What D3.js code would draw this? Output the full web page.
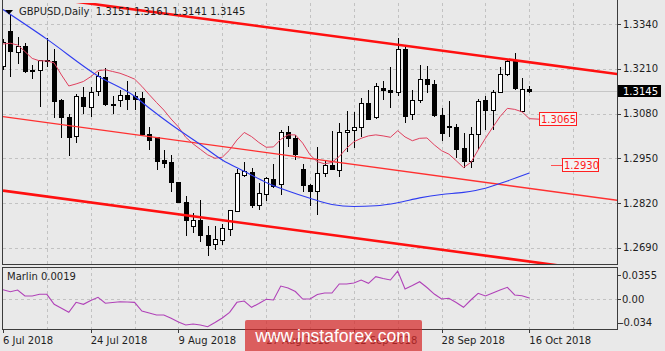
<!DOCTYPE html>
<html>
<head>
<meta charset="utf-8">
<script src="https://cdn.jsdelivr.net/npm/d3@7"></script>
<style>
body { margin: 0; background: #e9e9e9; }
svg { display: block; font-family: "DejaVu Sans", sans-serif; }
</style>
</head>
<body>
<svg id="chart" width="665" height="351"></svg>
<script>
/* GBPUSD daily bars, 6 Jul 2018 .. 16 Oct 2018 */
const openP  = [1.3218,1.3317,1.3257,1.3274,1.3206,1.3205,1.3234,1.3231,1.3118,1.3069,
                1.3013,1.3127,1.3098,1.3144,1.3185,1.3105,1.3117,1.3131,1.3129,1.3124,
                1.3018,1.3011,1.2943,1.2938,1.2880,1.2823,1.2752,1.2768,1.2725,1.2699,
                1.2711,1.2744,1.2795,1.2899,1.2909,1.2812,1.2844,1.2889,1.2873,1.3025,
                1.3008,1.2918,1.2871,1.2853,1.2905,1.2929,1.2914,1.3025,1.3032,1.3040,
                1.3110,1.3069,1.3153,1.3147,1.3141,1.3267,1.3076,1.3118,1.3180,1.3165,
                1.3075,1.3042,1.3040,1.2979,1.2941,1.3018,1.3118,1.3090,1.3141,1.3192,
                1.3234,1.3086,1.3151];
const highP  = [1.3295,1.3366,1.3301,1.3286,1.3221,1.3236,1.3298,1.3266,1.3122,1.3079,
                1.3137,1.3158,1.3158,1.3202,1.3211,1.3131,1.3149,1.3173,1.3143,1.3143,
                1.3042,1.3011,1.2974,1.2960,1.2882,1.2839,1.2791,1.2829,1.2752,1.2754,
                1.2760,1.2800,1.2918,1.2938,1.2921,1.2878,1.2897,1.2934,1.3032,1.3044,
                1.3018,1.2934,1.2876,1.2984,1.2941,1.3028,1.3052,1.3086,1.3083,1.3124,
                1.3149,1.3168,1.3173,1.3216,1.3298,1.3274,1.3147,1.3221,1.3218,1.3178,
                1.3095,1.3117,1.3049,1.3023,1.3040,1.3121,1.3131,1.3149,1.3216,1.3238,
                1.3257,1.3182,1.3161];
const lowP   = [1.3205,1.3187,1.3224,1.3199,1.3179,1.3100,1.3216,1.3068,1.3008,1.2957,
                1.2994,1.3079,1.3071,1.3131,1.3102,1.3079,1.3098,1.3089,1.3090,1.3015,
                1.2974,1.2916,1.2923,1.2853,1.2820,1.2723,1.2733,1.2708,1.2665,1.2684,
                1.2699,1.2725,1.2795,1.2895,1.2805,1.2800,1.2825,1.2863,1.2844,1.2984,
                1.2945,1.2853,1.2810,1.2786,1.2895,1.2916,1.2897,1.2967,1.2979,1.3013,
                1.3061,1.3063,1.3118,1.3095,1.3131,1.3052,1.3061,1.3110,1.3139,1.3071,
                1.2999,1.3013,1.2950,1.2921,1.2921,1.2974,1.3032,1.3032,1.3141,1.3189,
                1.3147,1.3086,1.3141];
const closeP = [1.3286,1.3259,1.3274,1.3202,1.3202,1.3234,1.3230,1.3115,1.3069,1.3011,
                1.3129,1.3100,1.3142,1.3187,1.3105,1.3103,1.3131,1.3121,1.3121,1.3018,
                1.3002,1.2941,1.2936,1.2880,1.2822,1.2769,1.2768,1.2725,1.2697,1.2715,
                1.2747,1.2798,1.2905,1.2912,1.2812,1.2849,1.2892,1.2868,1.3025,1.3008,
                1.2960,1.2870,1.2853,1.2905,1.2929,1.2918,1.3026,1.3032,1.3040,1.3108,
                1.3063,1.3158,1.3146,1.3142,1.3267,1.3071,1.3119,1.3180,1.3165,1.3073,
                1.3023,1.3040,1.2976,1.2941,1.3018,1.3115,1.3088,1.3141,1.3192,1.3231,
                1.3153,1.3150,1.3145];

/* fast moving average (red thin), one value per bar */
const maFast = [1.3282,1.3284,1.3279,1.3260,1.3240,1.3233,1.3233,1.3227,1.3192,1.3160,
                1.3166,1.3173,1.3187,1.3204,1.3207,1.3202,1.3197,1.3189,1.3180,1.3159,
                1.3135,1.3112,1.3090,1.3064,1.3041,1.3011,1.2992,1.2976,1.2960,1.2950,
                1.2953,1.2974,1.3003,1.3025,1.3013,1.2996,1.2982,1.2983,1.3005,1.3018,
                1.3018,1.2994,1.2960,1.2940,1.2934,1.2938,1.2955,1.2979,1.2998,1.3008,
                1.3015,1.3018,1.3015,1.3011,1.3030,1.3012,1.3001,1.3008,1.3009,1.2989,
                1.2972,1.2962,1.2943,1.2923,1.2938,1.2974,1.3008,1.3040,1.3071,1.3095,
                1.3092,1.3085,1.3065];

/* slow moving average (blue), [bar, value] */
const maSlow = [[0,1.3382],[6,1.3296],[13,1.3189],[18,1.3130],[20,1.3096],[23,1.3048],
                [27,1.2990],[30,1.2945],[33,1.2912],[36,1.2880],[39,1.2855],[42,1.2834],
                [45,1.2816],[48,1.2810],[51,1.2812],[54,1.2821],[57,1.2835],[60,1.2845],
                [63,1.2851],[66,1.2863],[69,1.2884],[72,1.2907]];

/* Marlin oscillator */
const marlin = [0.0140,0.0111,0.0136,0.0048,0.0048,0.0073,0.0073,-0.0073,-0.0131,-0.0190,
                -0.0044,-0.0073,-0.0018,0.0029,-0.0058,-0.0047,-0.0035,-0.0039,-0.0044,-0.0171,
                -0.0200,-0.0229,-0.0229,-0.0278,-0.0332,-0.0375,-0.0361,-0.0375,-0.0400,-0.0339,
                -0.0273,-0.0190,-0.0044,-0.0025,-0.0117,-0.0061,0.0000,-0.0010,0.0194,0.0165,
                0.0114,0.0004,0.0004,0.0070,0.0092,0.0092,0.0224,0.0224,0.0238,0.0282,
                0.0234,0.0330,0.0304,0.0282,0.0413,0.0150,0.0202,0.0257,0.0172,0.0077,
                0.0004,0.0015,-0.0047,-0.0117,-0.0010,0.0088,0.0048,0.0092,0.0136,0.0175,
                0.0063,0.0053,0.0019];

/* channel lines, [bar, price] anchors */
const chanUpper = [[0,1.3433],[85,1.3192]];
const chanMid   = [[0,1.3071],[85,1.2825]];
const chanLower = [[0,1.2856],[85,1.2613]];

const priceTicks = [1.2690,1.2820,1.2950,1.3080,1.3210,1.3340];
const marlinTicks = [-0.034,0.00,0.0355];
const marlinTickLabels = ["-0.034","0.00","0.0355"];
const dateTicks = [0,12,24,36,48,60,72];
const dateLabels = ["6 Jul 2018","24 Jul 2018","9 Aug 2018","27 Aug 2018","12 Sep 2018","28 Sep 2018","16 Oct 2018"];
const gridBars = [0,6,12,18,24,30,36,42,48,54,60,66,72,78];

const lastPrice = 1.3145;
const fastLabel = 1.3065;
const slowLabel = 1.2930;
const marlinValue = "0.0019";

/* layout */
const left = 3, right = 617;
const mainTop = 3, mainBottom = 264;
const subTop = 267, subBottom = 329;

const svg = d3.select("#chart");

var x = d3.scaleLinear().domain([0, 72]).range([3, 529.3]);
var y = d3.scaleLinear().domain([1.2690, 1.3340]).range([247.8, 24]);
var ySub = d3.scaleLinear().domain([-0.034, 0.0355]).range([322.6, 275]);

const defs = svg.append("defs");
defs.append("clipPath").attr("id", "clipMain")
    .append("rect").attr("x", left).attr("y", mainTop)
    .attr("width", right - left).attr("height", mainBottom - mainTop);
defs.append("clipPath").attr("id", "clipSub")
    .append("rect").attr("x", left).attr("y", subTop)
    .attr("width", right - left).attr("height", subBottom - subTop);

/* grid */
const grid = svg.append("g")
    .attr("stroke", "#c2c2c2")
    .attr("stroke-dasharray", "3,3")
    .attr("shape-rendering", "crispEdges");
grid.selectAll(".hgrid").data(priceTicks).enter().append("line")
    .attr("x1", left).attr("x2", right)
    .attr("y1", d => Math.round(y(d)) + 0.5).attr("y2", d => Math.round(y(d)) + 0.5);
grid.selectAll(".vgrid").data(gridBars.filter(d => d > 0)).enter().append("line")
    .attr("x1", d => Math.round(x(d)) + 0.5).attr("x2", d => Math.round(x(d)) + 0.5)
    .attr("y1", mainTop).attr("y2", mainBottom);
grid.selectAll(".vgridSub").data(gridBars.filter(d => d > 0)).enter().append("line")
    .attr("x1", d => Math.round(x(d)) + 0.5).attr("x2", d => Math.round(x(d)) + 0.5)
    .attr("y1", subTop).attr("y2", subBottom);
grid.append("line")
    .attr("x1", left).attr("x2", right)
    .attr("y1", Math.round(ySub(0)) + 0.5).attr("y2", Math.round(ySub(0)) + 0.5);

/* bid line */
svg.append("line")
    .attr("x1", left).attr("x2", right)
    .attr("y1", Math.round(y(lastPrice)) + 0.5).attr("y2", Math.round(y(lastPrice)) + 0.5)
    .attr("stroke", "#c6c6c6")
    .attr("shape-rendering", "crispEdges");

/* candles */
const main = svg.append("g").attr("clip-path", "url(#clipMain)");
const candles = main.append("g").attr("shape-rendering", "crispEdges");
const idx = d3.range(openP.length);

candles.selectAll(".wick").data(idx).enter().append("line")
    .attr("class", "wick")
    .attr("x1", i => Math.round(x(i)) + 0.5).attr("x2", i => Math.round(x(i)) + 0.5)
    .attr("y1", i => y(highP[i])).attr("y2", i => y(lowP[i]))
    .attr("stroke", "#000");

candles.selectAll(".body").data(idx).enter().append("rect")
    .attr("class", "body")
    .attr("x", i => Math.round(x(i)) - 1.5)
    .attr("width", 4)
    .attr("y", i => y(Math.max(openP[i], closeP[i])))
    .attr("height", i => Math.max(1, Math.abs(y(openP[i]) - y(closeP[i]))))
    .attr("fill", i => closeP[i] >= openP[i] ? "#fff" : "#000")
    .attr("stroke", "#000");

/* channel */
function chanLine(pts, width, color) {
    main.append("path")
        .attr("d", d3.line().x(d => x(d[0])).y(d => y(d[1]))(pts))
        .attr("fill", "none")
        .attr("stroke", color)
        .attr("stroke-width", width);
}
chanLine(chanUpper, 2.6, "#ff1010");
chanLine(chanLower, 2.6, "#ff1010");
chanLine(chanMid, 1.4, "#ff3030");

/* moving averages */
main.append("path")
    .attr("d", d3.line().x((d, i) => x(i)).y(d => y(d))(maFast))
    .attr("fill", "none")
    .attr("stroke", "#e0405e")
    .attr("stroke-width", 1);

main.append("path")
    .attr("d", d3.line().curve(d3.curveMonotoneX).x(d => x(d[0])).y(d => y(d[1]))(maSlow))
    .attr("fill", "none")
    .attr("stroke", "#2f3cf0")
    .attr("stroke-width", 1.1);

/* price labels for the averages */
const fx = x(72), fy = y(maFast[maFast.length - 1]);
svg.append("line")
    .attr("x1", fx).attr("y1", fy).attr("x2", 539).attr("y2", y(fastLabel) + 0.5)
    .attr("stroke", "#e0405e");
svg.append("rect")
    .attr("x", 539.5).attr("y", Math.round(y(fastLabel)) - 6.5)
    .attr("width", 37).attr("height", 13)
    .attr("fill", "#f3f3f3").attr("stroke", "#ff2020");
svg.append("text")
    .attr("x", 541).attr("y", y(fastLabel) + 4)
    .attr("fill", "#ff1a1a").style("font-size", "10px")
    .text(fastLabel.toFixed(4));

svg.append("line")
    .attr("x1", 551).attr("x2", 562)
    .attr("y1", Math.round(y(slowLabel)) + 0.5).attr("y2", Math.round(y(slowLabel)) + 0.5)
    .attr("stroke", "#ff5050");
svg.append("rect")
    .attr("x", 562.5).attr("y", Math.round(y(slowLabel)) - 6.5)
    .attr("width", 36).attr("height", 13)
    .attr("fill", "#f3f3f3").attr("stroke", "#ff2020");
svg.append("text")
    .attr("x", 564).attr("y", y(slowLabel) + 4)
    .attr("fill", "#ff1a1a").style("font-size", "10px")
    .text(slowLabel.toFixed(4));

/* marlin */
svg.append("g").attr("clip-path", "url(#clipSub)")
    .append("path")
    .attr("d", d3.line().x((d, i) => x(i)).y(d => ySub(d))(marlin))
    .attr("fill", "none")
    .attr("stroke", "#b042b8")
    .attr("stroke-width", 1.1);

/* frames */
const frame = svg.append("g")
    .attr("stroke", "#3c3c3c").attr("fill", "none")
    .attr("shape-rendering", "crispEdges");
frame.append("path").attr("d",
    "M" + (left - 0.5) + "," + 0 + "V" + (mainBottom + 0.5) + "H" + (right + 0.5) + "V0");
frame.append("rect")
    .attr("x", left - 0.5).attr("y", subTop + 0.5)
    .attr("width", right - left + 1).attr("height", subBottom - subTop);

/* right price axis */
const axis = svg.append("g").style("font-size", "10px").attr("fill", "#1e1e1e");
axis.selectAll(".ptick").data(priceTicks).enter().append("line")
    .attr("x1", right).attr("x2", right + 4)
    .attr("y1", d => Math.round(y(d)) + 0.5).attr("y2", d => Math.round(y(d)) + 0.5)
    .attr("stroke", "#3c3c3c");
axis.selectAll(".plabel").data(priceTicks).enter().append("text")
    .attr("x", 623).attr("y", d => y(d) + 3.6)
    .text(d => d.toFixed(4));

svg.append("rect")
    .attr("x", 618).attr("y", Math.round(y(lastPrice)) - 6)
    .attr("width", 43).attr("height", 12)
    .attr("fill", "#000");
svg.append("text")
    .attr("x", 623).attr("y", y(lastPrice) + 3.6)
    .attr("fill", "#fff").style("font-size", "10px")
    .text(lastPrice.toFixed(4));

axis.selectAll(".mtick").data(marlinTicks).enter().append("line")
    .attr("x1", right).attr("x2", right + 4)
    .attr("y1", d => Math.round(ySub(d)) + 0.5).attr("y2", d => Math.round(ySub(d)) + 0.5)
    .attr("stroke", "#3c3c3c");
axis.selectAll(".mlabel").data(marlinTicks).enter().append("text")
    .attr("x", (d, i) => d < 0 ? 620 : 622).attr("y", d => ySub(d) + 3.6)
    .text((d, i) => marlinTickLabels[i]);

/* date axis */
axis.selectAll(".dtick").data(dateTicks).enter().append("line")
    .attr("x1", d => Math.round(x(d)) + 0.5).attr("x2", d => Math.round(x(d)) + 0.5)
    .attr("y1", subBottom).attr("y2", subBottom + 4)
    .attr("stroke", "#3c3c3c");
axis.selectAll(".dlabel").data(dateTicks).enter().append("text")
    .attr("x", d => x(d))
    .attr("y", 344)
    .text((d, i) => dateLabels[i]);

/* titles */
svg.append("path")
    .attr("d", "M5,10 L13,10 L9,14.5 Z")
    .attr("fill", "#000");
svg.append("text")
    .attr("x", 19).attr("y", 15)
    .style("font-size", "10px").style("white-space", "pre")
    .attr("fill", "#1e1e1e")
    .text("GBPUSD,Daily  1.3151 1.3161 1.3141 1.3145");
svg.append("text")
    .attr("x", 7).attr("y", 280)
    .style("font-size", "10px")
    .attr("fill", "#1e1e1e")
    .text("Marlin " + marlinValue);

/* watermark */
svg.append("rect")
    .attr("x", 245).attr("y", 320)
    .attr("width", 177).attr("height", 34).attr("rx", 2)
    .attr("fill", "rgb(214,40,40)").attr("opacity", 0.72);
svg.append("text")
    .attr("x", 333).attr("y", 342)
    .attr("text-anchor", "middle")
    .style("font-family", "'Liberation Sans', Arial, sans-serif")
    .style("font-size", "17.5px")
    .attr("fill", "#fff")
    .text("www.instaforex.com");
</script>
</body>
</html>
